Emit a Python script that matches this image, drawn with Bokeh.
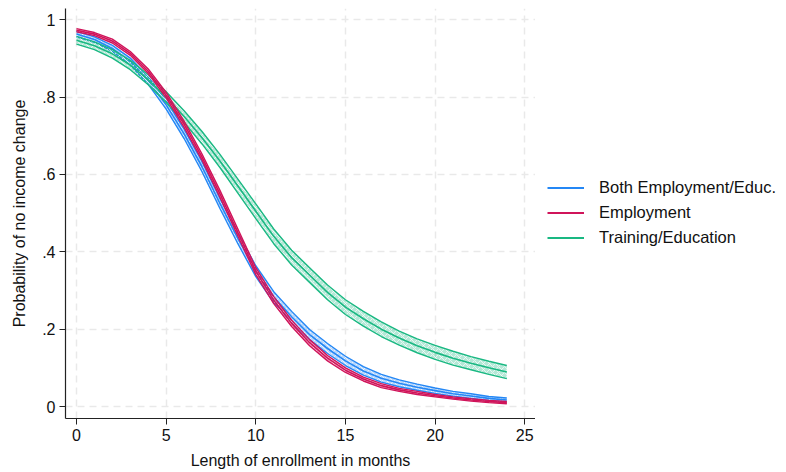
from bokeh.plotting import figure
from bokeh.models import Legend, LegendItem, FixedTicker, Range1d
from bokeh.layouts import row
from bokeh.embed import file_html
from bokeh.resources import INLINE

# ---- data ----
months = list(range(25))

both_est = [.963, .949, .926, .892, .843, .780, .705, .620, .525, .435, .350, .283, .232,
            .186, .150, .118, .092, .073, .060, .050, .041, .033, .027, .021, .017]
both_ci = [.007, .007, .008, .009, .010, .011, .012, .013, .013, .014, .014, .014, .014,
           .013, .013, .012, .011, .010, .009, .008, .007, .006, .006, .005, .005]

empl_est = [.973, .963, .945, .913, .867, .805, .730, .645, .550, .450, .350, .275, .215,
            .165, .125, .094, .071, .054, .043, .035, .028, .022, .017, .013, .010]
empl_ci = [.004, .004, .005, .005, .006, .007, .008, .008, .009, .009, .009, .009, .008,
           .008, .007, .006, .005, .005, .004, .004, .003, .003, .003, .003, .003]

train_est = [.947, .933, .912, .883, .845, .800, .750, .695, .635, .570, .505, .440, .385,
             .340, .295, .257, .227, .200, .177, .157, .140, .125, .112, .100, .089]
train_ci = [.010, .010, .011, .012, .013, .014, .015, .016, .017, .018, .019, .019, .019,
            .019, .019, .019, .019, .019, .018, .018, .018, .018, .017, .017, .017]

series_names = ["Both Employment/Educ.", "Employment", "Training/Education"]
series_colors = ["#2487f5", "#d0145a", "#19b882"]

x_ticks = [0, 5, 10, 15, 20, 25]
y_ticks = [0, 0.2, 0.4, 0.6, 0.8, 1]
y_tick_labels = ["0", ".2", ".4", ".6", ".8", "1"]

FONT = "Liberation Sans"

p = figure(frame_width=470, frame_height=410, output_backend="svg", toolbar_location=None,
           x_range=Range1d(-0.614, 25.6), y_range=Range1d(-0.031, 1.0292),
           min_border_left=65, min_border_right=0, min_border_top=8, min_border_bottom=40)
p.outline_line_color = None
p.background_fill_color = "white"
p.border_fill_color = "white"

# grid
for g in (p.xgrid, p.ygrid):
    g.grid_line_color = "#e9e9e9"
    g.grid_line_dash = "7 5"
    g.grid_line_width = 1.5
p.xgrid.ticker = FixedTicker(ticks=x_ticks)
p.ygrid.ticker = FixedTicker(ticks=y_ticks)

# axes
p.xaxis.ticker = FixedTicker(ticks=x_ticks)
p.yaxis.ticker = FixedTicker(ticks=y_ticks)
p.yaxis.major_label_overrides = {t: l for t, l in zip(y_ticks, y_tick_labels)}
for ax in (p.xaxis, p.yaxis):
    ax.axis_line_color = "#222222"
    ax.axis_line_width = 1.2
    ax.major_tick_line_color = "#222222"
    ax.major_tick_in = 0
    ax.major_tick_out = 6
    ax.minor_tick_line_color = None
    ax.major_label_text_font = FONT
    ax.major_label_text_font_size = "16px"
    ax.major_label_text_color = "#111111"
    ax.axis_label_text_font = FONT
    ax.axis_label_text_font_size = "16px"
    ax.axis_label_text_font_style = "normal"
    ax.axis_label_text_color = "#111111"
p.xaxis.major_label_standoff = 4
p.xaxis.axis_label_standoff = 8
p.yaxis.major_label_standoff = 4
p.yaxis.axis_label_standoff = 11
p.yaxis.major_label_orientation = "horizontal"
p.xaxis.axis_label = "Length of enrollment in months"
p.yaxis.axis_label = "Probability of no income change"

order = [0, 2, 1]
data = [(both_est, both_ci), (empl_est, empl_ci), (train_est, train_ci)]
for i in order:
    est, ci = data[i]
    col = series_colors[i]
    lo = [e - c for e, c in zip(est, ci)]
    hi = [e + c for e, c in zip(est, ci)]
    p.varea(x=months, y1=lo, y2=hi, fill_color=col, fill_alpha=0.32,
            hatch_pattern="diagonal_cross", hatch_color="white", hatch_alpha=0.85,
            hatch_scale=6, hatch_weight=0.8)
    p.line(months, lo, line_color=col, line_width=1.4)
    p.line(months, hi, line_color=col, line_width=1.4)
    p.line(months, est, line_color=col, line_width=1.6)

# ---- legend panel: a bare figure beside the plot that only hosts the legend ----
lg = figure(width=251, height=472, output_backend="svg", toolbar_location=None,
            x_range=Range1d(1000, 1001), y_range=Range1d(0, 1),
            x_axis_location=None, y_axis_location=None,
            min_border=0)
lg.outline_line_color = None
lg.xgrid.visible = False
lg.ygrid.visible = False
lg.background_fill_color = "white"
lg.border_fill_color = "white"

legend_items = []
for i in range(3):
    r = lg.line(months, data[i][0], line_color=series_colors[i], line_width=2)
    legend_items.append(LegendItem(label=series_names[i], renderers=[r]))

legend = Legend(items=legend_items, location=(12, 169))
legend.margin = 0
legend.padding = 10
legend.border_line_color = None
legend.background_fill_alpha = 0
legend.glyph_width = 37
legend.glyph_height = 25
legend.label_height = 25
legend.spacing = 0
legend.label_standoff = 15
legend.label_text_font = FONT
legend.label_text_font_size = "16.5px"
legend.label_text_color = "#111111"
lg.add_layout(legend, "center")

layout = row(p, lg)
open("out.html", "w").write(file_html(layout, INLINE))
